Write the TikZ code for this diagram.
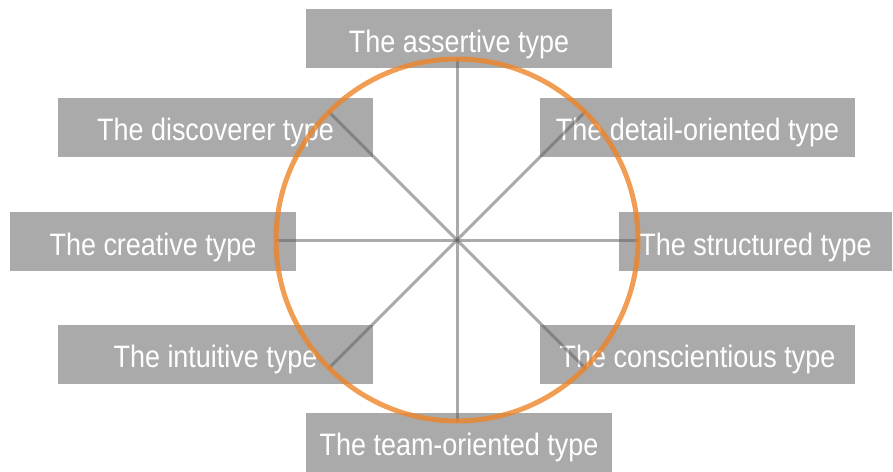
\documentclass[tikz,border=0pt]{standalone}
\usepackage{fontspec}
\newfontfamily\typefont{Liberation Sans}[FakeStretch=0.87]
\usepackage{tikz}
\usetikzlibrary{positioning}
\definecolor{boxgray}{RGB}{170,170,170}
\definecolor{spokegray}{RGB}{100,100,100}
\definecolor{ringorange}{RGB}{238,132,40}

\begin{document}
\begin{tikzpicture}[
  x=1pt, y=-1pt,
  font=\typefont\fontsize{31}{36}\selectfont,
  tbox/.style={fill=boxgray, text=white, inner sep=0pt, minimum height=59pt,
               text height=27pt, text depth=0pt},
  spoke/.style={draw=spokegray, line width=3pt, opacity=0.55},
  ring/.style={draw=ringorange, line width=5pt, opacity=0.8}]

\useasboundingbox (0,0) rectangle (893,471);

% types
\node[tbox, minimum width=306pt] (assertive) at (459,38.5) {The assertive type};
\node[tbox, minimum width=315pt] (discoverer) at (215.5,127) {The discoverer type};
\node[tbox, minimum width=315pt] (detail) at (697.5,127) {The detail-oriented type};
\node[tbox, minimum width=286pt] (creative) at (153,241.5) {The creative type};
\node[tbox, minimum width=273pt] (structured) at (755.5,241.5) {The structured type};
\node[tbox, minimum width=315pt] (intuitive) at (215.5,354) {The intuitive type};
\node[tbox, minimum width=315pt] (conscientious) at (697.5,354) {The conscientious type};
\node[tbox, minimum width=306pt] (team) at (459,442) {The team-oriented type};

% spokes and ring
\coordinate (hub) at (457,240);
\foreach \a in {0,45,...,315} \draw[spoke] (hub) -- ++(\a:182);
\draw[ring] (hub) circle[radius=181];
\end{tikzpicture}
\end{document}
